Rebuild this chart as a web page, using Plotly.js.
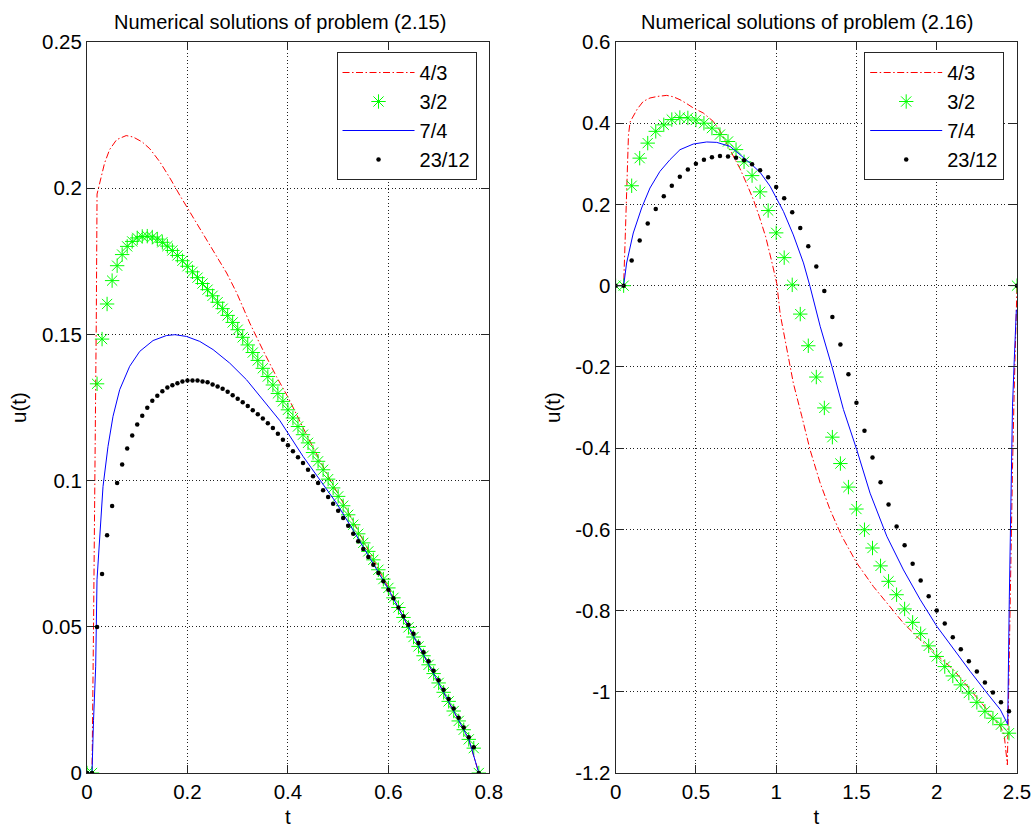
<!DOCTYPE html>
<html><head><meta charset="utf-8">
<script src="https://cdn.plot.ly/plotly-3.0.1.min.js"></script>
<style>html,body{margin:0;padding:0;background:#fff}#chart{width:1034px;height:830px}</style>
</head><body><div id="chart"></div>
<script>
// ---------- series names ----------
const seriesNames = ['4/3', '3/2', '7/4', '23/12'];
const titleLeft = 'Numerical solutions of problem (2.15)';
const titleRight = 'Numerical solutions of problem (2.16)';

// ---------- left panel (problem 2.15) ----------
const tLeft = [0,0.01,0.02,0.03,0.04,0.05,0.06,0.07,0.08,0.09,0.10,0.11,0.12,0.13,0.14,0.15,0.16,0.17,0.18,0.19,
  0.20,0.21,0.22,0.23,0.24,0.25,0.26,0.27,0.28,0.29,0.30,0.31,0.32,0.33,0.34,0.35,0.36,0.37,0.38,0.39,
  0.40,0.41,0.42,0.43,0.44,0.45,0.46,0.47,0.48,0.49,0.50,0.51,0.52,0.53,0.54,0.55,0.56,0.57,0.58,0.59,
  0.60,0.61,0.62,0.63,0.64,0.65,0.66,0.67,0.68,0.69,0.70,0.71,0.72,0.73,0.74,0.75,0.76,0.77,0.78];

const uLeft32 = [0,0,0.1331,0.1484,0.1604,0.1684,0.1735,0.1773,0.1801,0.1818,0.1830,0.1835,0.1836,0.1833,0.1826,0.1815,0.1802,0.1787,0.1770,0.1752,
  0.1733,0.1714,0.1694,0.1674,0.1653,0.1632,0.1610,0.1588,0.1565,0.1541,0.1516,0.1490,0.1464,0.1438,0.1411,0.1384,0.1356,0.1327,0.1298,0.1271,
  0.1242,0.1214,0.1185,0.1157,0.1129,0.1096,0.1066,0.1037,0.1005,0.0975,0.0946,0.0914,0.0883,0.0849,0.0818,0.0787,0.0758,0.0729,0.0695,0.0663,
  0.0633,0.0599,0.0566,0.0532,0.0498,0.0465,0.0433,0.0401,0.0370,0.0340,0.0308,0.0276,0.0245,0.0212,0.0178,0.0148,0.0115,0.0085,0];

const uLeft2312 = [0,0,0.0499,0.0681,0.0813,0.0913,0.0992,0.1055,0.1110,0.1154,0.1192,0.1222,0.1249,0.1273,0.1290,0.1306,0.1318,0.1326,0.1333,0.1339,
  0.1342,0.1342,0.1342,0.1339,0.1336,0.1329,0.1322,0.1314,0.1304,0.1292,0.1280,0.1268,0.1255,0.1241,0.1227,0.1212,0.1196,0.1180,0.1160,0.1140,
  0.1121,0.1100,0.1080,0.1060,0.1037,0.1015,0.0992,0.0967,0.0944,0.0921,0.0897,0.0872,0.0846,0.0818,0.0793,0.0766,0.0739,0.0712,0.0684,0.0656,
  0.0627,0.0598,0.0566,0.0536,0.0507,0.0476,0.0445,0.0413,0.0382,0.0350,0.0317,0.0285,0.0253,0.0221,0.0189,0.0156,0.0122,0.0088,0];

const tLeft43 = [0,0.01,0.013,0.016,0.0185,0.02,0.029,0.035,0.045,0.059,0.078,0.092,0.11,0.125,0.145,0.165,0.185,0.201,0.218,0.238,
  0.258,0.278,0.298,0.324,0.35,0.377,0.40,0.437,0.48,0.52,0.56,0.60,0.64,0.68,0.72,0.76,0.78];
const uLeft43 = [0,0,0.05,0.10,0.155,0.198,0.204,0.2086,0.2132,0.2166,0.2180,0.2175,0.2158,0.2135,0.2090,0.2035,0.1975,0.1930,0.1881,0.1824,
  0.1767,0.1710,0.1642,0.1539,0.1447,0.1356,0.1286,0.1157,0.1015,0.0893,0.0762,0.0634,0.0499,0.0371,0.0246,0.0115,0];

const tLeft74 = [0,0.01,0.013,0.0173,0.0199,0.0253,0.0319,0.0418,0.0518,0.0651,0.085,0.105,0.1315,0.158,0.175,0.198,0.2245,0.251,0.284,0.3175,
  0.35,0.384,0.43,0.4635,0.4967,0.53,0.56,0.60,0.64,0.68,0.72,0.76,0.78];
const uLeft74 = [0,0,0.018,0.0365,0.0661,0.0821,0.0980,0.1117,0.1220,0.1311,0.1391,0.1442,0.1479,0.1496,0.1499,0.1493,0.1476,0.1448,0.1402,0.1345,
  0.1277,0.1205,0.1083,0.1003,0.0923,0.0830,0.0745,0.0629,0.0500,0.0372,0.0245,0.0116,0];

// ---------- right panel (problem 2.16) ----------
const tRight = [0,0.05,0.10,0.15,0.20,0.25,0.30,0.35,0.40,0.45,0.50,0.55,0.60,0.65,0.70,0.75,0.80,0.85,0.90,0.95,
  1.00,1.05,1.10,1.15,1.20,1.25,1.30,1.35,1.40,1.45,1.50,1.55,1.60,1.65,1.70,1.75,1.80,1.85,1.90,1.95,
  2.00,2.05,2.10,2.15,2.20,2.25,2.30,2.35,2.40,2.45,2.50];

const uRight32 = [0,0,0.246,0.314,0.351,0.380,0.396,0.409,0.414,0.413,0.408,0.400,0.388,0.372,0.355,0.335,0.305,0.271,0.231,0.185,
  0.130,0.069,0.002,-0.070,-0.148,-0.225,-0.301,-0.373,-0.438,-0.496,-0.550,-0.601,-0.646,-0.690,-0.728,-0.761,-0.796,-0.829,-0.857,-0.887,
  -0.913,-0.938,-0.961,-0.983,-1.003,-1.026,-1.048,-1.065,-1.081,-1.102,0];

const uRight2312 = [0,0,0.062,0.111,0.153,0.189,0.220,0.246,0.268,0.286,0.300,0.310,0.316,0.319,0.318,0.315,0.309,0.299,0.284,0.267,
  0.243,0.215,0.181,0.142,0.097,0.047,-0.013,-0.077,-0.145,-0.218,-0.288,-0.357,-0.423,-0.484,-0.539,-0.593,-0.639,-0.685,-0.726,-0.765,
  -0.800,-0.832,-0.866,-0.895,-0.925,-0.950,-0.977,-1.002,-1.026,-1.048,0];

const tRight43 = [0,0.05,0.06,0.07,0.08,0.09,0.10,0.135,0.172,0.214,0.26,0.318,0.36,0.401,0.44,0.484,0.546,0.608,0.65,0.692,
  0.735,0.775,0.815,0.858,0.895,0.935,0.972,1.004,1.025,1.066,1.107,1.16,1.211,1.274,1.336,1.409,1.502,1.606,1.689,1.793,
  1.897,2.001,2.105,2.209,2.313,2.354,2.396,2.42,2.44,2.448,2.46,2.472,2.483,2.5];
const uRight43 = [0,0,0.12,0.28,0.37,0.403,0.41,0.435,0.4537,0.4621,0.466,0.4685,0.465,0.4579,0.449,0.4375,0.4252,0.4045,0.381,0.351,
  0.320,0.288,0.252,0.212,0.170,0.120,0.060,0.005,-0.070,-0.158,-0.240,-0.322,-0.404,-0.486,-0.552,-0.617,-0.683,-0.741,-0.782,-0.831,
  -0.872,-0.909,-0.946,-0.995,-1.044,-1.069,-1.085,-1.105,-1.18,-1.0,-0.70,-0.45,-0.25,0];

const tRight74 = [0,0.05,0.0686,0.11,0.162,0.214,0.276,0.3385,0.401,0.484,0.567,0.63,0.713,0.775,0.84,0.90,0.962,1.045,1.107,1.17,
  1.211,1.274,1.347,1.419,1.502,1.585,1.689,1.793,1.897,2.001,2.105,2.209,2.313,2.396,2.442,2.448,2.452,2.462,2.472,2.483,2.496];
const uRight74 = [0,0,0.0558,0.1297,0.1912,0.2405,0.2814,0.3102,0.3348,0.3488,0.3538,0.3528,0.3429,0.323,0.301,0.279,0.245,0.183,0.125,0.056,
  -0.002,-0.100,-0.199,-0.305,-0.404,-0.511,-0.617,-0.700,-0.773,-0.839,-0.896,-0.950,-1.003,-1.044,-1.080,-0.95,-0.773,-0.535,-0.297,-0.182,-0.059];

// ---------- ticks ----------
const xTicksLeft = [0, 0.2, 0.4, 0.6, 0.8];
const xTickTextLeft = ['0', '0.2', '0.4', '0.6', '0.8'];
const yTicksLeft = [0, 0.05, 0.1, 0.15, 0.2, 0.25];
const yTickTextLeft = ['0', '0.05', '0.1', '0.15', '0.2', '0.25'];
const xTicksRight = [0, 0.5, 1, 1.5, 2, 2.5];
const xTickTextRight = ['0', '0.5', '1', '1.5', '2', '2.5'];
const yTicksRight = [-1.2, -1, -0.8, -0.6, -0.4, -0.2, 0, 0.2, 0.4, 0.6];
const yTickTextRight = ['-1.2', '-1', '-0.8', '-0.6', '-0.4', '-0.2', '0', '0.2', '0.4', '0.6'];

// ---------- styles ----------
const FONT = 'Liberation Sans, Arial, Helvetica, sans-serif';
const redLine = {color: '#ff0000', width: 1, dash: '7px,2.5px,1.5px,2.5px'};
const blueLine = {color: '#0000ff', width: 1};
const starMarker = {symbol: 'asterisk-open', size: 12, color: '#00ff00', line: {color: '#00ff00', width: 1}};
const dotMarker = {symbol: 'circle', size: 4.5, color: '#000000', line: {width: 0}};

function panelTraces(xa, ya, leg, t43, u43, t, u32, t74, u74, u2312) {
  return [
    {x: t43, y: u43, name: seriesNames[0], type: 'scatter', mode: 'lines', line: redLine, xaxis: xa, yaxis: ya, legend: leg},
    {x: t, y: u32, name: seriesNames[1], type: 'scatter', mode: 'markers', marker: starMarker, xaxis: xa, yaxis: ya, legend: leg},
    {x: t74, y: u74, name: seriesNames[2], type: 'scatter', mode: 'lines', line: blueLine, xaxis: xa, yaxis: ya, legend: leg},
    {x: t, y: u2312, name: seriesNames[3], type: 'scatter', mode: 'markers', marker: dotMarker, xaxis: xa, yaxis: ya, legend: leg}
  ];
}

const data = [].concat(
  panelTraces('x', 'y', 'legend', tLeft43, uLeft43, tLeft, uLeft32, tLeft74, uLeft74, uLeft2312),
  panelTraces('x2', 'y2', 'legend2', tRight43, uRight43, tRight, uRight32, tRight74, uRight74, uRight2312)
);

const axisCommon = {
  showline: true, linecolor: '#262626', linewidth: 1, mirror: 'ticks',
  ticks: 'inside', ticklen: 8, tickwidth: 1, tickcolor: '#262626',
  showgrid: true, gridcolor: '#202020', gridwidth: 1, griddash: '1px,2.5px',
  zeroline: false, tickfont: {family: FONT, size: 20.5, color: '#000'},
  automargin: false, fixedrange: true
};

const legendCommon = {
  bgcolor: '#ffffff', bordercolor: '#262626', borderwidth: 1,
  font: {family: FONT, size: 20, color: '#000'},
  xanchor: 'left', yanchor: 'top', itemwidth: 72, tracegroupgap: 0
};

const layout = {
  width: 1034, height: 830,
  margin: {l: 87.3, r: 17.3, t: 42.3, b: 56.7, pad: 0},
  paper_bgcolor: '#ffffff', plot_bgcolor: '#ffffff',
  font: {family: FONT, size: 20.5, color: '#000'},
  showlegend: true,
  xaxis: Object.assign({}, axisCommon, {domain: [0, 0.4321], range: [0, 0.8], tickvals: xTicksLeft, ticktext: xTickTextLeft,
    title: {text: 't', font: {family: FONT, size: 20.5}, standoff: 8}}),
  yaxis: Object.assign({}, axisCommon, {domain: [0, 1], range: [0, 0.25], tickvals: yTicksLeft, ticktext: yTickTextLeft,
    title: {text: 'u(t)', font: {family: FONT, size: 20.5}, standoff: 9}}),
  xaxis2: Object.assign({}, axisCommon, {domain: [0.5684, 1], range: [0, 2.5], anchor: 'y2', tickvals: xTicksRight, ticktext: xTickTextRight,
    title: {text: 't', font: {family: FONT, size: 20.5}, standoff: 8}}),
  yaxis2: Object.assign({}, axisCommon, {domain: [0, 1], range: [-1.2, 0.6], anchor: 'x2', tickvals: yTicksRight, ticktext: yTickTextRight,
    title: {text: 'u(t)', font: {family: FONT, size: 20.5}, standoff: 9}}),
  legend: Object.assign({}, legendCommon, {x: 0.2683, y: 0.9863}),
  legend2: Object.assign({}, legendCommon, {x: 0.8357, y: 0.9863}),
  annotations: [
    {text: titleLeft, xref: 'paper', yref: 'paper', x: 0.2078, y: 1.0278, xanchor: 'center', yanchor: 'middle', showarrow: false,
      font: {family: FONT, size: 20, color: '#000'}},
    {text: titleRight, xref: 'paper', yref: 'paper', x: 0.7741, y: 1.0278, xanchor: 'center', yanchor: 'middle', showarrow: false,
      font: {family: FONT, size: 20, color: '#000'}}
  ]
};

Plotly.newPlot('chart', data, layout, {displayModeBar: false, staticPlot: true});
</script></body></html>
